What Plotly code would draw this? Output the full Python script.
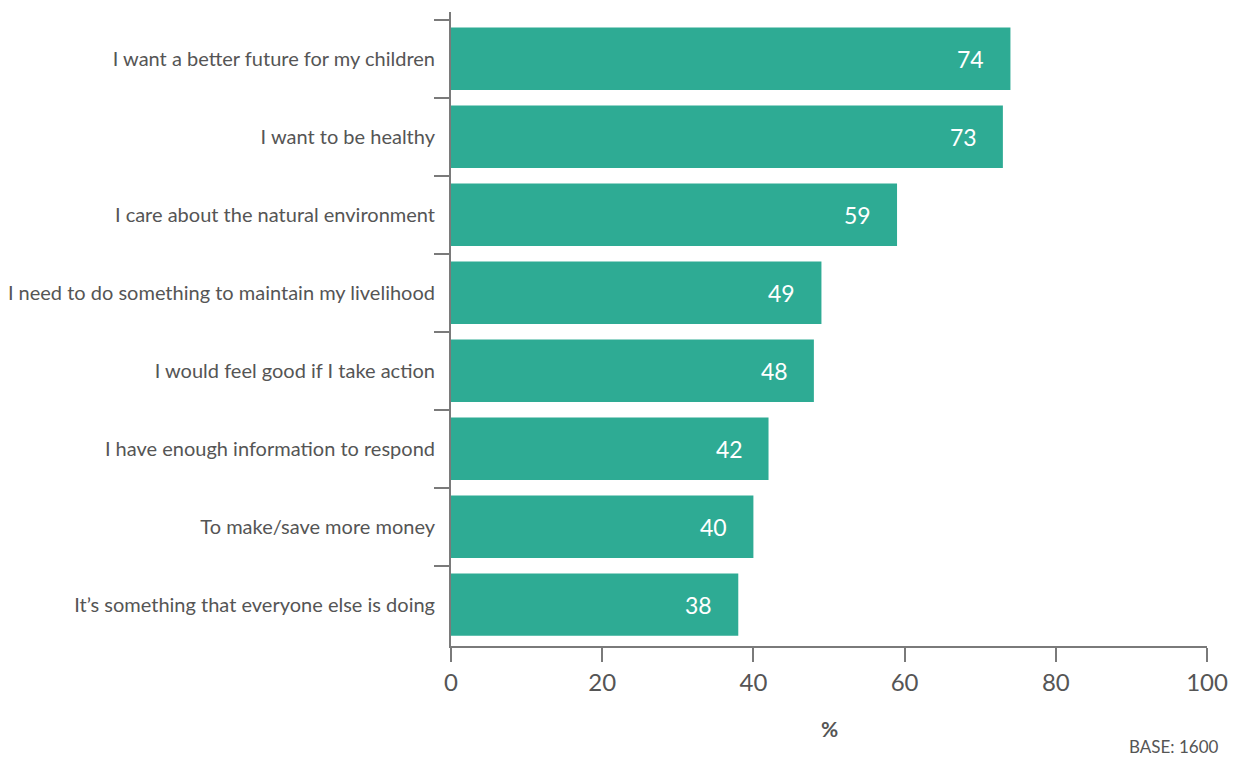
import plotly.graph_objects as go

reasons = [
    "I want a better future for my children",
    "I want to be healthy",
    "I care about the natural environment",
    "I need to do something to maintain my livelihood",
    "I would feel good if I take action",
    "I have enough information to respond",
    "To make/save more money",
    "It\u2019s something that everyone else is doing",
]
percent = [74, 73, 59, 49, 48, 42, 40, 38]

BAR = "#2eab94"
AXIS = "#7a7a7a"
TEXT = "#555555"
FONT = "Lato"

fig = go.Figure()
fig.add_trace(go.Bar(
    x=percent, y=reasons, orientation="h",
    marker=dict(color=BAR, line=dict(width=0)),
    width=0.8, hoverinfo="skip",
))

for r, v in zip(reasons, percent):
    fig.add_annotation(
        x=v, y=r, text=str(v), showarrow=False,
        xanchor="right", xshift=-24,
        font=dict(family=FONT, size=23, color="white"),
    )

fig.add_annotation(
    x=0.5, y=-0.13, xref="paper", yref="paper", text="<b>%</b>",
    showarrow=False, xanchor="center", yanchor="middle",
    font=dict(family=FONT, size=21, color=TEXT),
)
fig.add_annotation(
    x=1.0, y=-0.159, xref="paper", yref="paper", text="BASE: 1600",
    showarrow=False, xanchor="right", yanchor="middle", xshift=14,
    font=dict(family=FONT, size=17, color=TEXT),
)

fig.update_layout(
    width=1243, height=758,
    margin=dict(l=451, r=36, t=12, b=112),
    paper_bgcolor="white", plot_bgcolor="white",
    showlegend=False,
    xaxis=dict(
        range=[0, 100], dtick=20, showgrid=False, zeroline=False,
        showline=True, linecolor=AXIS, linewidth=2,
        ticks="outside", ticklen=14, tickwidth=2, tickcolor=AXIS,
        tickfont=dict(family=FONT, size=24, color=TEXT),
        fixedrange=True, automargin=False,
    ),
    yaxis=dict(
        categoryorder="array", categoryarray=reasons,
        range=[7.53, -0.6], showgrid=False, zeroline=False,
        showline=True, linecolor=AXIS, linewidth=2,
        ticks="outside", tickson="boundaries", ticklen=15,
        tickwidth=2, tickcolor=AXIS, ticklabelstandoff=10,
        tickfont=dict(family=FONT, size=20, color=TEXT),
        fixedrange=True, automargin=False,
    ),
)

fig.write_html("out.html")
